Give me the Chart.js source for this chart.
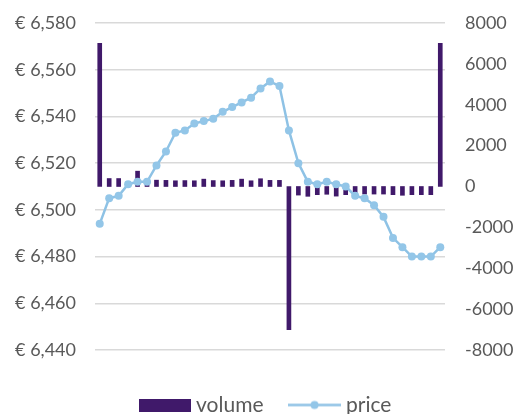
<!DOCTYPE html>
<html><head><meta charset="utf-8">
<script src="https://cdn.jsdelivr.net/npm/chart.js@4/dist/chart.umd.min.js"></script>
<style>html,body{margin:0;padding:0;background:#fff}#wrap{width:515px;height:414px;position:relative}</style>
</head><body><div id="wrap"><canvas id="c" width="515" height="414"></canvas></div>
<script>
const categories = ['1','2','3','4','5','6','7','8','9','10','11','12','13','14','15','16','17','18','19','20','21','22','23','24','25','26','27','28','29','30','31','32','33','34','35','36','37'];
const price = [6.494, 6.505, 6.506, 6.511, 6.512, 6.512, 6.519, 6.525, 6.533, 6.534, 6.537, 6.538, 6.539, 6.542, 6.544, 6.546, 6.548, 6.552, 6.555, 6.553, 6.534, 6.520, 6.512, 6.511, 6.512, 6.511, 6.510, 6.506, 6.505, 6.502, 6.497, 6.488, 6.484, 6.480, 6.480, 6.480, 6.484];
const volume = [7000, 390, 390, 250, 750, 200, 310, 300, 280, 290, 280, 360, 290, 280, 300, 360, 280, 380, 300, 300, -7000, -420, -480, -400, -380, -470, -400, -370, -370, -370, -370, -400, -430, -400, -400, -400, 7000];
const seriesNames = ['volume', 'price'];
const priceTicks = {min: 6.44, max: 6.58, step: 0.02};
const volumeTicks = {min: -8000, max: 8000, step: 2000};

const BAR = '#40196a', LINE = '#8ec2e5', POINT = '#93c6e8', TXT = '#595959';
const FONT = 'Lato, "Open Sans", sans-serif';

function boxIcon() {
  const c = document.createElement('canvas'); c.width = 52; c.height = 13;
  const g = c.getContext('2d'); g.fillStyle = BAR; g.fillRect(0, 0, 52, 13); return c;
}
function lineIcon() {
  const c = document.createElement('canvas'); c.width = 53; c.height = 13;
  const g = c.getContext('2d'); g.strokeStyle = LINE; g.lineWidth = 2.5;
  g.beginPath(); g.moveTo(0, 6.5); g.lineTo(53, 6.5); g.stroke();
  g.fillStyle = POINT; g.beginPath(); g.arc(26.5, 6.5, 4, 0, Math.PI * 2); g.fill(); return c;
}

const legendShift = {
  id: 'legendShift',
  afterLayout(chart) {
    const lg = chart.legend;
    if (lg) { lg.left += 10; lg.right += 10; }
  }
};

function fixWidth(w) {
  return (s) => { s.width = w; s.paddingTop = 0; s.paddingBottom = 0; };
}

new Chart(document.getElementById('c'), {
  type: 'bar',
  data: {
    labels: categories,
    datasets: [
      {type: 'bar', label: seriesNames[0], data: volume, yAxisID: 'yR', backgroundColor: BAR, barThickness: 4, order: 1},
      {type: 'line', label: seriesNames[1], data: price, yAxisID: 'yL', borderColor: LINE, borderWidth: 2.5,
       pointRadius: 4, pointBackgroundColor: POINT, pointBorderWidth: 0, tension: 0, order: 0}
    ]
  },
  plugins: [legendShift],
  options: {
    responsive: false, animation: false, devicePixelRatio: 1,
    layout: {padding: {top: 23, bottom: -11.5, left: 0, right: 0}},
    plugins: {
      tooltip: {enabled: false},
      legend: {
        position: 'bottom',
        labels: {
          usePointStyle: true, pointStyleWidth: 42, boxHeight: 13, padding: 30,
          color: TXT, font: {family: FONT, size: 21},
          generateLabels: (chart) => [
            {text: seriesNames[0], pointStyle: boxIcon(), datasetIndex: 0, hidden: false, fontColor: TXT, lineWidth: 0, strokeStyle: 'transparent', fillStyle: BAR},
            {text: seriesNames[1], pointStyle: lineIcon(), datasetIndex: 1, hidden: false, fontColor: TXT, lineWidth: 0, strokeStyle: 'transparent', fillStyle: POINT}
          ]
        }
      }
    },
    scales: {
      x: {
        type: 'category', offset: true,
        grid: {display: false, drawTicks: false}, border: {display: false},
        ticks: {display: false},
        afterFit: (s) => { s.height = 14.5; }
      },
      yL: {
        position: 'left', min: priceTicks.min, max: priceTicks.max,
        ticks: {stepSize: priceTicks.step, color: TXT, font: {family: FONT, size: 18}, padding: 19,
          callback: (v) => '€ ' + Number(v).toFixed(3).replace('.', ',')},
        grid: {color: '#d9d9d9', lineWidth: 1.5, drawTicks: false},
        border: {display: false},
        afterFit: fixWidth(95)
      },
      yR: {
        position: 'right', min: volumeTicks.min, max: volumeTicks.max,
        ticks: {stepSize: volumeTicks.step, color: TXT, font: {family: FONT, size: 18}, padding: 20,
          callback: (v) => String(v)},
        grid: {display: false, drawTicks: false},
        border: {display: false},
        afterFit: fixWidth(70)
      }
    }
  }
});
</script></body></html>
